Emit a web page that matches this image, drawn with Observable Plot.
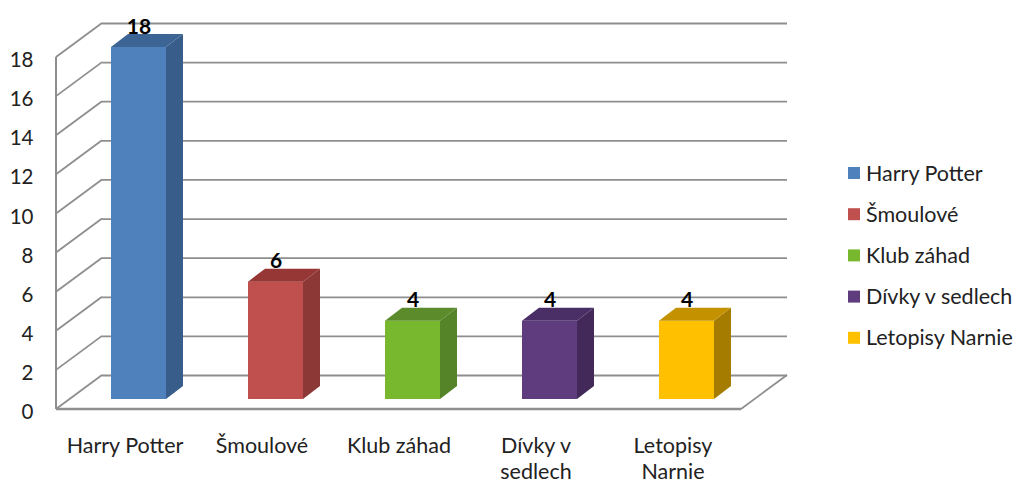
<!DOCTYPE html>
<html>
<head>
<meta charset="utf-8">
<script src="https://cdn.jsdelivr.net/npm/d3@7"></script>
<script src="https://cdn.jsdelivr.net/npm/@observablehq/plot@0.6"></script>
<style>
  html, body { margin: 0; padding: 0; background: #fff; }
  #chart svg { display: block; }
</style>
</head>
<body>
<div id="chart"></div>
<script>
// ---- data ----
const categories = ["Harry Potter", "Šmoulové", "Klub záhad", "Dívky v sedlech", "Letopisy Narnie"];
const values = [18, 6, 4, 4, 4];
const yTicks = [0, 2, 4, 6, 8, 10, 12, 14, 16, 18];
const xTickLabels = ["Harry Potter", "Šmoulové", "Klub záhad", "Dívky v\nsedlech", "Letopisy\nNarnie"];

// ---- styles ----
const frontColors = ["#4F81BD", "#C0504D", "#77B82F", "#5E3C7E", "#FFC000"];
const sideColors  = ["#385D8A", "#8C3836", "#558328", "#42295A", "#A67C00"];
const topColors   = ["#3C6596", "#963735", "#5C8B2C", "#4A2E66", "#C49200"];

const data = categories.map((c, i) => ({cat: c, value: values[i], i}));

const FONT = "Lato, 'Open Sans', sans-serif";
const GRID = "#8E8E8E";
// oblique depth offsets (pixels)
const WALL_DX = 46, WALL_DY = -34;
const BAR_DX = 14, BAR_DY = -10;
const BAR_DEPTH_X = 17, BAR_DEPTH_Y = -13;
const BAR_INSET = 41;

function walls(index, scales, values, dims) {
  const x = scales.x, y = scales.y;
  const g = d3.create("svg:g");
  const x0 = dims.marginLeft, x1 = dims.width - dims.marginRight;
  for (const t of yTicks) {
    g.append("line")
      .attr("x1", x0).attr("y1", y(t))
      .attr("x2", x0 + WALL_DX).attr("y2", y(t) + WALL_DY)
      .attr("stroke", GRID).attr("stroke-width", 1.8);
  }
  g.append("line")
    .attr("x1", x0).attr("y1", y(yTicks[0]))
    .attr("x2", x0).attr("y2", y(yTicks[yTicks.length - 1]))
    .attr("stroke", GRID).attr("stroke-width", 2);
  g.append("line")
    .attr("x1", x0).attr("y1", y(0)).attr("x2", x1).attr("y2", y(0))
    .attr("stroke", GRID).attr("stroke-width", 2.4);
  g.append("line")
    .attr("x1", x1).attr("y1", y(0)).attr("x2", x1 + WALL_DX).attr("y2", y(0) + WALL_DY)
    .attr("stroke", GRID).attr("stroke-width", 1.8);
  return g.node();
}

function barSides(index, scales, values, dims) {
  const x = scales.x, y = scales.y;
  const bw = x.bandwidth();
  const g = d3.create("svg:g");
  for (const d of data) {
    const xl = x(d.cat) + BAR_INSET + BAR_DX;
    const xr = x(d.cat) + bw - BAR_INSET + BAR_DX;
    const yt = y(d.value) + BAR_DY;
    const yb = y(0) + BAR_DY;
    g.append("polygon")
      .attr("points", [[xr, yb], [xr, yt], [xr + BAR_DEPTH_X, yt + BAR_DEPTH_Y], [xr + BAR_DEPTH_X, yb + BAR_DEPTH_Y]].join(" "))
      .attr("fill", sideColors[d.i]);
    g.append("polygon")
      .attr("points", [[xl, yt], [xr, yt], [xr + BAR_DEPTH_X, yt + BAR_DEPTH_Y], [xl + BAR_DEPTH_X, yt + BAR_DEPTH_Y]].join(" "))
      .attr("fill", topColors[d.i]);
  }
  return g.node();
}

function legend(index, scales, values, dims) {
  const g = d3.create("svg:g").attr("font-family", FONT).attr("font-size", 21.5).attr("text-anchor", "start");
  const lx = 848, ly = 173, step = 41.2;
  categories.forEach((c, i) => {
    g.append("rect").attr("x", lx).attr("y", ly + i * step - 6).attr("width", 12).attr("height", 12)
      .attr("fill", frontColors[i]);
    g.append("text").attr("x", lx + 18).attr("y", ly + i * step).attr("dy", "0.35em")
      .attr("text-anchor", "start").attr("fill", "#222").text(c);
  });
  return g.node();
}

const chart = Plot.plot({
  width: 1017,
  height: 483,
  marginLeft: 56,
  marginRight: 276,
  marginTop: 57,
  marginBottom: 74,
  style: {fontFamily: FONT, fontSize: "21.5px", color: "#222", background: "#fff"},
  x: {domain: categories, padding: 0},
  y: {domain: [0, 18]},
  marks: [
    Plot.ruleY(yTicks, {y: d => d, stroke: GRID, strokeWidth: 1.8, dx: WALL_DX, dy: WALL_DY, strokeOpacity: 1}),
    walls,
    Plot.axisY(yTicks, {tickSize: 0, tickPadding: 23, dy: 3, fontSize: 20.5, label: null, fill: "#222"}),
    Plot.axisX({tickSize: 0, tickPadding: 24, label: null, fontSize: 21.5, lineHeight: 1.25,
      tickFormat: (d) => xTickLabels[categories.indexOf(d)], fill: "#222"}),
    Plot.barY(data, {x: "cat", y: "value", fill: d => frontColors[d.i],
      insetLeft: BAR_INSET, insetRight: BAR_INSET, dx: BAR_DX, dy: BAR_DY}),
    barSides,
    Plot.text(data, {x: "cat", y: "value", text: d => String(d.value), dx: BAR_DX,
      dy: BAR_DY + BAR_DEPTH_Y - 1, lineAnchor: "bottom", fontWeight: "bold", fontSize: 21, fill: "#000"}),
    legend
  ]
});
document.getElementById("chart").appendChild(chart);
</script>
</body>
</html>
